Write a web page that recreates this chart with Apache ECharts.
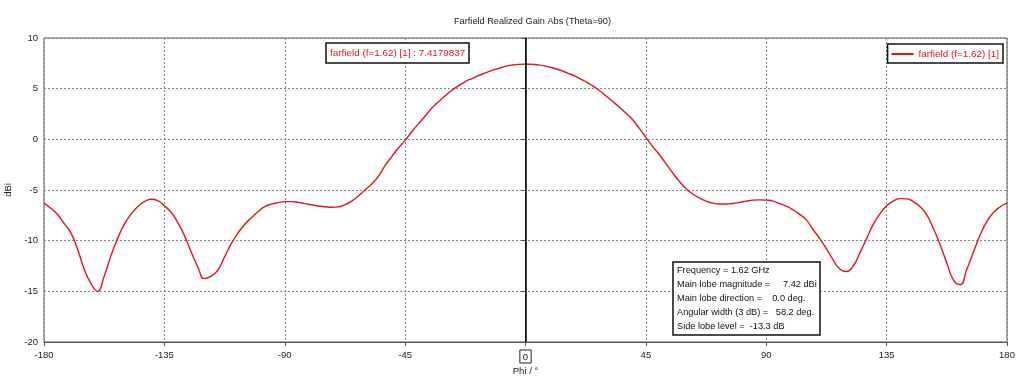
<!DOCTYPE html>
<html><head><meta charset="utf-8">
<script src="https://cdn.jsdelivr.net/npm/echarts@6/dist/echarts.min.js"></script>
<style>html,body{margin:0;padding:0;background:#fff}#c{width:1024px;height:381px}</style>
</head><body><div id="c"></div>
<script>
const phi = [-180,-177.5,-175,-172.5,-170,-167.5,-165,-162.5,-160,-157.5,-155,-152.5,-150,-147.5,-145,-142.5,-140,-137.5,-135,-132.5,-130,-127.5,-125,-122.5,-120,-117.5,-115,-112.5,-110,-107.5,-105,-102.5,-100,-97.5,-95,-92.5,-90,-87.5,-85,-82.5,-80,-77.5,-75,-72.5,-70,-67.5,-65,-62.5,-60,-57.5,-55,-52.5,-50,-47.5,-45,-42.5,-40,-37.5,-35,-32.5,-30,-27.5,-25,-22.5,-20,-17.5,-15,-12.5,-10,-7.5,-5,-2.5,0,
2.5,5,7.5,10,12.5,15,17.5,20,22.5,25,27.5,30,32.5,35,37.5,40,42.5,45,47.5,50,52.5,55,57.5,60,62.5,65,67.5,70,72.5,75,77.5,80,82.5,85,87.5,90,92.5,95,97.5,100,102.5,105,107.5,110,112.5,115,117.5,120,122.5,125,127.5,130,132.5,135,137.5,140,142.5,145,147.5,150,152.5,155,157.5,160,162.5,165,167.5,170,172.5,175,177.5,180];
const gain = [-6.3,-6.8,-7.4,-8.3,-9.2,-10.8,-12.8,-14.2,-15.0,-13.5,-11.5,-9.8,-8.4,-7.4,-6.65,-6.15,-5.92,-6.05,-6.55,-7.2,-8.2,-9.5,-11.1,-12.6,-13.75,-13.5,-12.9,-11.6,-10.3,-9.25,-8.4,-7.75,-7.15,-6.65,-6.4,-6.25,-6.15,-6.15,-6.22,-6.35,-6.45,-6.58,-6.65,-6.7,-6.67,-6.45,-6.1,-5.6,-5.0,-4.4,-3.65,-2.6,-1.7,-0.85,-0.1,0.75,1.55,2.3,3.1,3.7,4.3,4.85,5.3,5.7,6.0,6.3,6.55,6.8,7.0,7.2,7.33,7.4,7.42,
7.4,7.35,7.22,7.06,6.87,6.62,6.35,6.05,5.7,5.3,4.85,4.3,3.75,3.2,2.6,1.95,1.1,0.2,-0.7,-1.5,-2.4,-3.3,-4.15,-4.85,-5.4,-5.8,-6.1,-6.3,-6.38,-6.38,-6.33,-6.22,-6.1,-6.0,-5.97,-6.0,-6.1,-6.35,-6.6,-6.95,-7.4,-7.95,-8.9,-9.8,-10.8,-11.9,-12.8,-13.05,-12.5,-11.2,-9.8,-8.4,-7.35,-6.55,-6.1,-5.85,-5.88,-6.15,-6.65,-7.45,-8.8,-10.4,-12.2,-13.9,-14.35,-12.8,-11.1,-9.4,-8.1,-7.2,-6.65,-6.3];
const seriesName = 'farfield (f=1.62) [1]';
const markerText = 'farfield (f=1.62) [1] : 7.4179837';
const infoLines = ['Frequency = 1.62 GHz','Main lobe magnitude =     7.42 dBi','Main lobe direction =    0.0 deg.','Angular width (3 dB) =   58.2 deg.','Side lobe level =  -13.3 dB'];
const titleText = 'Farfield Realized Gain Abs (Theta=90)';
const FONT = 'Liberation Sans';
const RED = '#e3141c';
const chart = echarts.init(document.getElementById('c'));
chart.setOption({
  animation:false,
  backgroundColor:'#fff',
  textStyle:{fontFamily:FONT},
  title:[
    {text:titleText,left:449,top:12,textStyle:{fontSize:9.2,fontWeight:'normal',color:'#222',fontFamily:FONT}},
    {text:markerText,left:326,top:43,padding:[5,4,5,4],borderColor:'#111',borderWidth:1.5,backgroundColor:'#fff',textStyle:{fontSize:9.9,fontWeight:'normal',color:RED,fontFamily:FONT}},
    {text:infoLines.join('\n'),left:673,top:262,padding:[1,4,1,4],borderColor:'#111',borderWidth:1.5,backgroundColor:'#fff',textStyle:{fontSize:9.2,lineHeight:14.2,fontWeight:'normal',color:'#111',fontFamily:FONT}}
  ],
  legend:{right:21,top:44,padding:[5,4,4,4],borderColor:'#111',borderWidth:1.5,backgroundColor:'#fff',itemWidth:22,itemHeight:2,itemGap:4,icon:'rect',
    textStyle:{color:RED,fontSize:9.9,fontFamily:FONT},data:[seriesName]},
  grid:{left:44,right:17,top:38,bottom:39,show:true,borderColor:'#555',borderWidth:1,containLabel:false,outerBoundsMode:'none'},
  xAxis:{type:'value',min:-180,max:180,interval:45,name:'Phi / °',nameLocation:'middle',nameGap:24,nameMoveOverlap:false,
    nameTextStyle:{fontSize:9.5,color:'#222',fontFamily:FONT},
    axisLine:{onZero:false,lineStyle:{color:'#555'}},axisTick:{show:true,length:4,inside:false,lineStyle:{color:'#555'}},
    axisLabel:{fontSize:9.5,color:'#222',margin:8,fontFamily:FONT,formatter:v=>v===0?'{b|0}':String(v),
      rich:{b:{borderColor:'#222',borderWidth:1,padding:[2,3,1,3],fontSize:9.5,color:'#222'}}},
    splitLine:{show:true,lineStyle:{color:'#888',type:[2,2],width:1}}},
  yAxis:{type:'value',min:-20,max:10,interval:5,name:'dBi',nameLocation:'middle',nameGap:31,nameRotate:90,nameMoveOverlap:false,
    nameTextStyle:{fontSize:9.5,color:'#222',fontFamily:FONT},
    axisLine:{show:true,lineStyle:{color:'#555'}},axisTick:{show:true,length:4,lineStyle:{color:'#555'}},
    axisLabel:{fontSize:9.5,color:'#222',margin:6,fontFamily:FONT},
    splitLine:{show:true,lineStyle:{color:'#888',type:[2,2],width:1}}},
  series:[{name:seriesName,type:'line',data:phi.map((p,i)=>[p,gain[i]]),smooth:0.5,showSymbol:false,
    lineStyle:{color:RED,width:1.4},itemStyle:{color:RED},
    markLine:{silent:true,symbol:'none',label:{show:false},lineStyle:{color:'#000',type:'solid',width:1.5},data:[{xAxis:0}]}}]
});
</script></body></html>
